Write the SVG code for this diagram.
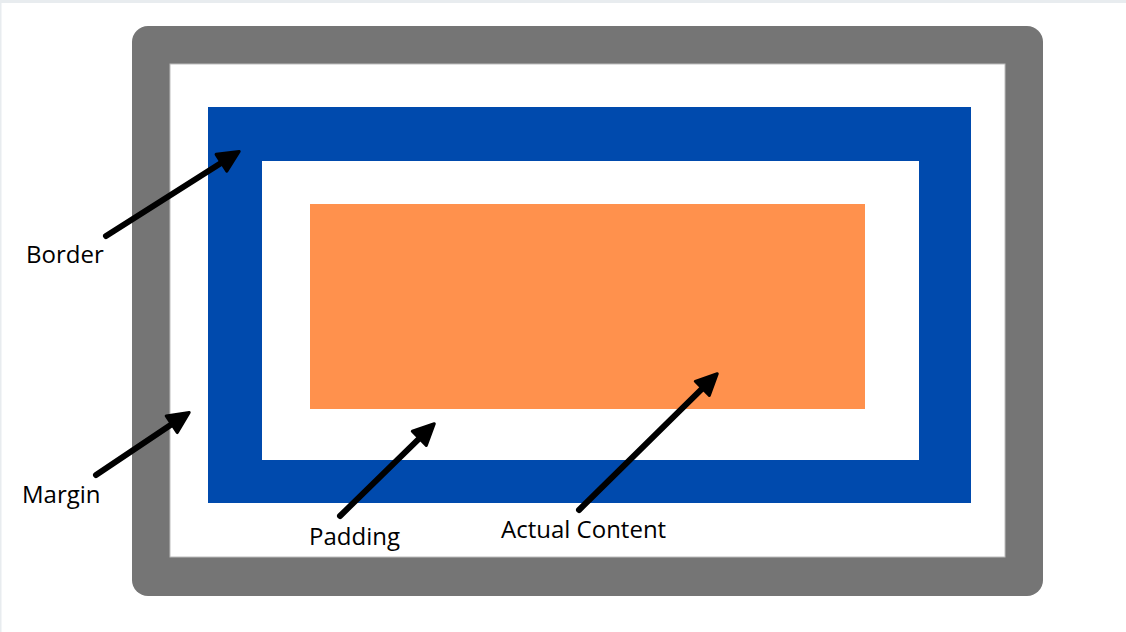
<svg xmlns="http://www.w3.org/2000/svg" width="1126" height="632" viewBox="0 0 1126 632">
  <style>
    .lbl { font-family: "Open Sans", "Liberation Sans", sans-serif; font-size: 24px; fill: #000; }
    .arr { stroke: #000; stroke-width: 6; stroke-linecap: round; fill: none; }
  </style>
  <defs>
    <marker id="ah" markerUnits="userSpaceOnUse" viewBox="-4 -14 30 28" markerWidth="30" markerHeight="28" refX="8" refY="0" orient="auto">
      <path d="M0,-10 L21,0 L0,10 Z" fill="#000" stroke="#000" stroke-width="3" stroke-linejoin="round"/>
    </marker>
  </defs>
  <rect x="0" y="0" width="1126" height="632" fill="#ffffff"/>
  <rect x="0" y="0" width="1126" height="3" fill="#e8ecef"/>
  <rect x="0" y="0" width="1.5" height="632" fill="#e8ecef"/>
  <g id="margin-box">
    <rect x="132" y="26" width="911" height="570" rx="16" fill="#757575"/>
    <rect x="170" y="64" width="835" height="493" fill="#ffffff" stroke="#bdbdbd" stroke-width="1"/>
  </g>
  <g id="border-box">
    <rect x="208" y="107" width="763" height="396" fill="#004aad"/>
  </g>
  <g id="padding-box">
    <rect x="262" y="161" width="657" height="299" fill="#ffffff"/>
  </g>
  <g id="content-box">
    <rect x="310" y="204" width="555" height="205" fill="#ff914d"/>
  </g>
  <g id="connectors">
    <line class="arr" x1="106" y1="236" x2="228.2" y2="158.5" marker-end="url(#ah)"/>
    <line class="arr" x1="96" y1="475" x2="178.4" y2="419.8" marker-end="url(#ah)"/>
    <line class="arr" x1="340" y1="516" x2="425" y2="432.8" marker-end="url(#ah)"/>
    <line class="arr" x1="579" y1="510" x2="708" y2="382.8" marker-end="url(#ah)"/>
  </g>
  <g id="label-border"><text class="lbl" x="26" y="263">Border</text></g>
  <g id="label-margin"><text class="lbl" x="22" y="503">Margin</text></g>
  <g id="label-padding"><text class="lbl" x="309" y="545">Padding</text></g>
  <g id="label-content"><text class="lbl" x="501" y="538">Actual Content</text></g>
</svg>
